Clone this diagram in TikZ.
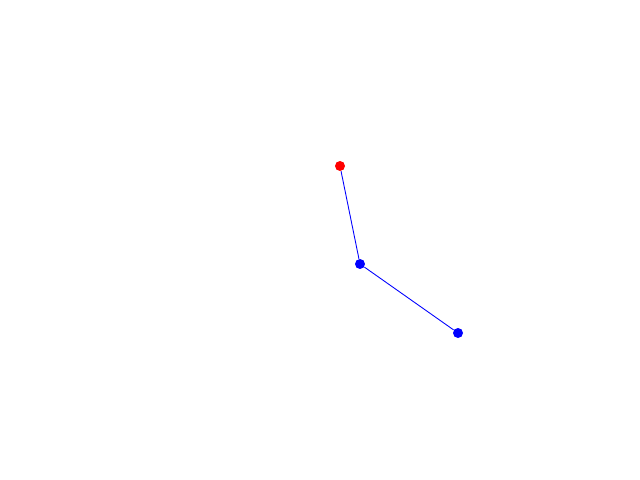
\documentclass[tikz,border=0pt]{standalone}
\begin{document}
\begin{tikzpicture}[x=.02cm,y=-.02cm,
  dot/.style={circle,inner sep=0pt,minimum size=.2cm},
  link/.style={blue,line width=.5pt}]
\useasboundingbox (0,0) rectangle (640,480);
\node[dot,fill=red]  (tip)  at (340,166) {};
\node[dot,fill=blue] (knee) at (360,264) {};
\node[dot,fill=blue] (base) at (458,333) {};
\draw[link] (tip) -- (knee) (knee) -- (base);
\end{tikzpicture}
\end{document}
